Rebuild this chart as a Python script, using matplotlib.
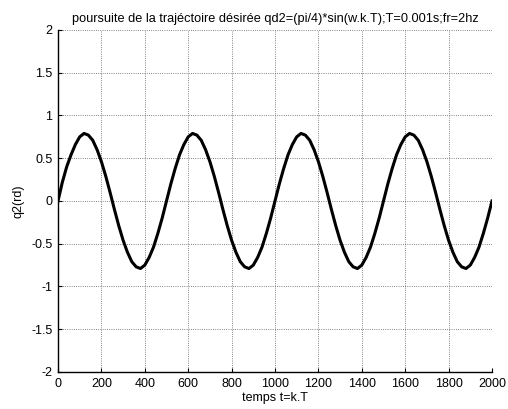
import matplotlib
matplotlib.use('Agg')
import matplotlib.pyplot as plt
from matplotlib.ticker import FuncFormatter

plt.rcParams['font.family'] = ['Liberation Sans', 'DejaVu Sans']
plt.rcParams['font.size'] = 9

# echantillons k (pas de 20) et position qd2 lue en rd
k = list(range(0, 2001, 20))
q2 = [
    0.00, 0.22, 0.40, 0.54, 0.66, 0.75, 0.79, 0.77, 0.71, 0.60,
    0.46, 0.29, 0.10, -0.10, -0.29, -0.46, -0.60, -0.71, -0.77, -0.79,
    -0.75, -0.66, -0.54, -0.38, -0.20,
    0.00, 0.20, 0.38, 0.54, 0.66, 0.75, 0.79, 0.77, 0.71, 0.60,
    0.46, 0.29, 0.10, -0.10, -0.29, -0.46, -0.60, -0.71, -0.77, -0.79,
    -0.75, -0.66, -0.54, -0.38, -0.20,
    0.00, 0.20, 0.38, 0.54, 0.66, 0.75, 0.79, 0.77, 0.71, 0.60,
    0.46, 0.29, 0.10, -0.10, -0.29, -0.46, -0.60, -0.71, -0.77, -0.79,
    -0.75, -0.66, -0.54, -0.38, -0.20,
    0.00, 0.20, 0.38, 0.54, 0.66, 0.75, 0.79, 0.77, 0.71, 0.60,
    0.46, 0.29, 0.10, -0.10, -0.29, -0.46, -0.60, -0.71, -0.77, -0.79,
    -0.75, -0.66, -0.54, -0.38, -0.20,
    0.00,
]
xticks = list(range(0, 2001, 200))
yticks = [-2, -1.5, -1, -0.5, 0, 0.5, 1, 1.5, 2]

fig = plt.figure(figsize=(5.08, 4.09), dpi=100)
ax = fig.add_axes([0.1142, 0.0905, 0.8543, 0.8362])

ax.plot(k, q2, color='black', linewidth=2.2, solid_joinstyle='round')

ax.set_xlim(0, 2000)
ax.set_ylim(-2, 2)
ax.set_xticks(xticks)
ax.set_yticks(yticks)
ax.xaxis.set_major_formatter(FuncFormatter(lambda v, p: '%g' % v))
ax.yaxis.set_major_formatter(FuncFormatter(lambda v, p: '%g' % v))
ax.tick_params(direction='in', length=3, width=0.8, colors='black', labelsize=9)
ax.tick_params(axis='x', pad=4.5)
ax.tick_params(axis='y', pad=4)

ax.grid(True, linestyle=':', color='0.35', linewidth=0.6)
ax.set_axisbelow(True)
for side in ['top', 'right']:
    ax.spines[side].set_visible(False)
for side in ['left', 'bottom']:
    ax.spines[side].set_linewidth(1.0)

ax.set_title('poursuite de la trajéctoire désirée qd2=(pi/4)*sin(w.k.T);T=0.001s;fr=2hz',
             fontsize=9.2, pad=5.5)
ax.set_xlabel('temps t=k.T', fontsize=9, labelpad=1)
ax.set_ylabel('q2(rd)', fontsize=9, labelpad=5)

plt.savefig('out.png', dpi=100)
